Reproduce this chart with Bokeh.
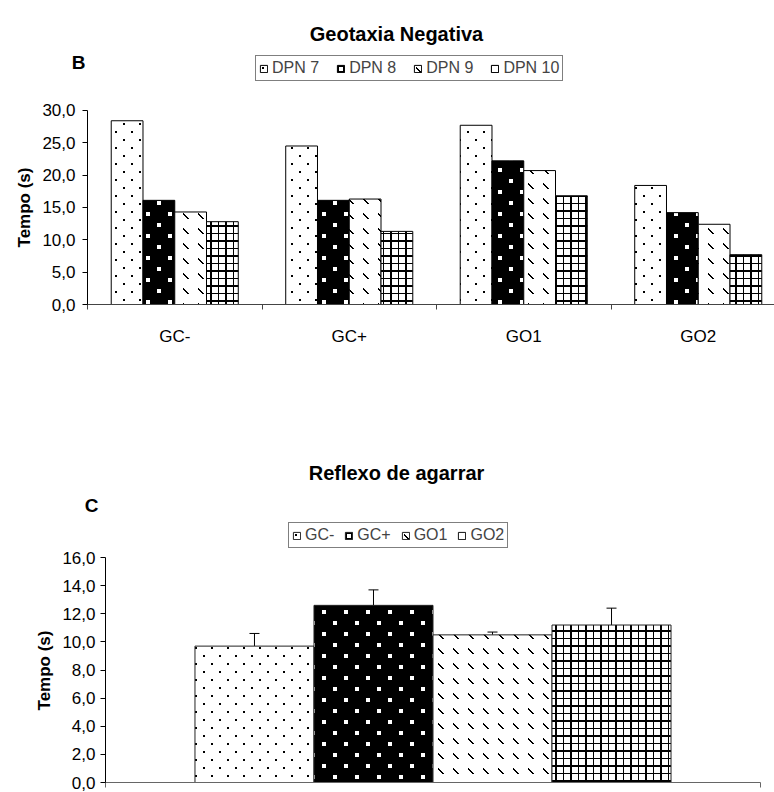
import math
import zlib
import struct
import base64
from bokeh.plotting import figure
from bokeh.layouts import column
from bokeh.models import (Range1d, FixedTicker, Legend, LegendItem, Label,
                          ColumnDataSource, Whisker, TeeHead, ImageURLTexture)
from bokeh.core.properties import value
from bokeh.embed import file_html
from bokeh.resources import INLINE

# ---------------- data ----------------
groups_b = ["GC-", "GC+", "GO1", "GO2"]
series_b = ["DPN 7", "DPN 8", "DPN 9", "DPN 10"]
dpn7 = [28.4, 24.5, 27.7, 18.4]
dpn8 = [16.1, 16.1, 22.2, 14.2]
dpn9 = [14.3, 16.3, 20.7, 12.4]
dpn10 = [12.8, 11.3, 16.8, 7.7]
yticks_b = [0, 5, 10, 15, 20, 25, 30]

groups_c = ["GC-", "GC+", "GO1", "GO2"]
means_c = [9.7, 12.6, 10.5, 11.2]
errors_c = [0.9, 1.1, 0.2, 1.2]
yticks_c = [0, 2, 4, 6, 8, 10, 12, 14, 16]

# ---------------- fill textures (small PNG tiles) ----------------
FONT = "Liberation Sans"


def png_url(size, on, rgb):
    """Tile of size x size pixels; pixels where on(x, y) is True get colour rgb."""
    rows = []
    for y in range(size):
        row = bytearray(b"\x00")
        for x in range(size):
            row += bytes(rgb + (255,)) if on(x, y) else b"\x00\x00\x00\x00"
        rows.append(bytes(row))
    raw = b"".join(rows)

    def chunk(t, d):
        return struct.pack(">I", len(d)) + t + d + struct.pack(">I", zlib.crc32(t + d) & 0xFFFFFFFF)

    png = (b"\x89PNG\r\n\x1a\n"
           + chunk(b"IHDR", struct.pack(">IIBBBBB", size, size, 8, 6, 0, 0, 0))
           + chunk(b"IDAT", zlib.compress(raw))
           + chunk(b"IEND", b""))
    return "data:image/png;base64," + base64.b64encode(png).decode()


def dots(x, y):
    return (x in (3, 4) and y in (3, 4)) or (x in (11, 12) and y in (11, 12))


def squares(x, y):
    return (3 <= x <= 6 and 3 <= y <= 6) or (14 <= x <= 17 and 14 <= y <= 17)


def dashes(x, y):
    return 3 <= x <= 8 and (y == x or y == x + 1 and x < 8)


def grid(x, y):
    return x in (0, 1) or y in (0, 1) or x == 8 or y == 8


tex = {
    "dots": ImageURLTexture(url=png_url(16, dots, (0, 0, 0)), repetition="repeat"),
    "squares": ImageURLTexture(url=png_url(22, squares, (255, 255, 255)), repetition="repeat"),
    "dashes": ImageURLTexture(url=png_url(15, dashes, (0, 0, 0)), repetition="repeat"),
    "grid": ImageURLTexture(url=png_url(15, grid, (0, 0, 0)), repetition="repeat"),
}

styles = [
    dict(fill_color="white", hatch_pattern=value("dots")),
    dict(fill_color="black", hatch_pattern=value("squares")),
    dict(fill_color="white", hatch_pattern=value("dashes")),
    dict(fill_color="white", hatch_pattern=value("grid")),
]


def fmt(v):
    return f"{v:.1f}".replace(".", ",")


def style_common(p):
    p.xgrid.visible = False
    p.ygrid.visible = False
    p.outline_line_color = None
    p.background_fill_color = "white"
    p.border_fill_color = "white"


def text_label(p, x, y, text, size, angle=0.0):
    p.add_layout(Label(x=x, y=y, x_units="screen", y_units="screen", text=text,
                       text_font=FONT, text_font_size=size, text_font_style="bold",
                       text_color="black", text_align="center", text_baseline="middle",
                       angle=angle))


def style_yaxis(ax, ticks, standoff):
    ax.ticker = FixedTicker(ticks=ticks, minor_ticks=[])
    ax.major_label_overrides = {v: fmt(v) for v in ticks}
    ax.bounds = (ticks[0], ticks[-1])
    ax.fixed_location = 0
    ax.major_tick_out = 5
    ax.major_tick_in = 0
    ax.major_label_standoff = standoff
    ax.major_label_text_font = FONT
    ax.major_label_text_font_size = "17px"
    ax.major_label_text_color = "black"
    ax.axis_line_color = "black"
    ax.major_tick_line_color = "black"


# ---------------- chart B ----------------
H_B = 420
PX_B = 6.47          # pixels per unit
CAT_B = 174.5        # pixels per category
LEFT_B = 87          # pixel of the y axis
BOTTOM_B = 304       # pixel of y = 0
pB = figure(width=774, height=H_B, output_backend="svg", toolbar_location=None,
            x_range=Range1d(-LEFT_B / CAT_B, (774 - LEFT_B) / CAT_B),
            y_range=Range1d(-(H_B - BOTTOM_B) / PX_B, BOTTOM_B / PX_B),
            min_border_left=0, min_border_right=0, min_border_top=0, min_border_bottom=0)
style_common(pB)

wb = 0.182
series_vals = [dpn7, dpn8, dpn9, dpn10]
rend_b = []
for k, vals in enumerate(series_vals):
    xs = [i + 0.5 + (k - 1.5) * wb for i in range(len(groups_b))]
    src = ColumnDataSource(dict(x=xs, top=vals))
    r = pB.vbar(x="x", top="top", bottom=0, width=wb, source=src,
                line_color="black", line_width=1, hatch_extra=tex, **styles[k])
    rend_b.append(r)

pB.xaxis.ticker = FixedTicker(ticks=[i + 0.5 for i in range(len(groups_b))],
                              minor_ticks=list(range(len(groups_b) + 1)))
pB.xaxis.major_label_overrides = {i + 0.5: g for i, g in enumerate(groups_b)}
pB.xaxis.bounds = (0, len(groups_b))
pB.xaxis.fixed_location = 0
pB.xaxis.major_tick_out = 0
pB.xaxis.major_tick_in = 0
pB.xaxis.minor_tick_out = 5
pB.xaxis.minor_tick_in = 0
pB.xaxis.major_label_standoff = 17
pB.xaxis.axis_line_color = "#444444"
pB.xaxis.minor_tick_line_color = "#444444"
pB.xaxis.major_label_text_font = FONT
pB.xaxis.major_label_text_font_size = "17px"
pB.xaxis.major_label_text_color = "black"

style_yaxis(pB.yaxis, yticks_b, 7)

legB = Legend(items=[LegendItem(label=s, renderers=[r]) for s, r in zip(series_b, rend_b)],
              orientation="horizontal", location=(255, H_B - 81), margin=0,
              padding=3, spacing=17, glyph_width=9, glyph_height=9, label_standoff=4,
              label_height=16, label_text_font=FONT, label_text_font_size="16px",
              label_text_baseline="middle",
              border_line_color="black", border_line_width=1, background_fill_alpha=1)
pB.add_layout(legB)

text_label(pB, 396, H_B - 33, "Geotaxia Negativa", "20px")
text_label(pB, 78, H_B - 62, "B", "19px")
text_label(pB, 24, H_B - 207, "Tempo (s)", "17px", angle=math.pi / 2)

# ---------------- chart C ----------------
TOP_C = 420          # window pixel where chart C starts
H_C = 792 - TOP_C
PX_C = 14.06
LEFT_C, RIGHT_C = 105, 760
BOTTOM_C = 782       # window pixel of y = 0
pC = figure(width=774, height=H_C, output_backend="svg", toolbar_location=None,
            x_range=Range1d(-LEFT_C / (RIGHT_C - LEFT_C), (774 - LEFT_C) / (RIGHT_C - LEFT_C)),
            y_range=Range1d(-(792 - BOTTOM_C) / PX_C, (BOTTOM_C - TOP_C) / PX_C),
            min_border_left=0, min_border_right=0, min_border_top=0, min_border_bottom=0)
style_common(pC)

wc = 0.1817
rend_c = []
for k, (g, m, e) in enumerate(zip(groups_c, means_c, errors_c)):
    x = 0.5 + (k - 1.5) * wc
    src = ColumnDataSource(dict(x=[x], top=[m], upper=[m + e]))
    r = pC.vbar(x="x", top="top", bottom=0, width=wc, source=src,
                line_color="#222222", line_width=1, hatch_extra=tex, **styles[k])
    rend_c.append(r)
    pC.add_layout(Whisker(source=src, base="x", upper="upper", lower="top",
                          line_color="black", line_width=1,
                          upper_head=TeeHead(size=10, line_color="black", line_width=1),
                          lower_head=None))

pC.xaxis.ticker = FixedTicker(ticks=[], minor_ticks=[0, 1])
pC.xaxis.bounds = (0, 1)
pC.xaxis.fixed_location = 0
pC.xaxis.minor_tick_out = 5
pC.xaxis.minor_tick_in = 0
pC.xaxis.major_label_standoff = 0
pC.xaxis.axis_line_color = "#666666"
pC.xaxis.minor_tick_line_color = "#666666"

style_yaxis(pC.yaxis, yticks_c, 5)

legC = Legend(items=[LegendItem(label=g, renderers=[r]) for g, r in zip(groups_c, rend_c)],
              orientation="horizontal", location=(288, 792 - 548), margin=0,
              padding=3, spacing=10, glyph_width=9, glyph_height=9, label_standoff=4,
              label_height=16, label_text_font=FONT, label_text_font_size="16px",
              label_text_baseline="middle",
              border_line_color="black", border_line_width=1, background_fill_alpha=1)
pC.add_layout(legC)

text_label(pC, 396, 792 - 472, "Reflexo de agarrar", "20px")
text_label(pC, 91, 792 - 505, "C", "19px")
text_label(pC, 44, 792 - 670, "Tempo (s)", "17px", angle=math.pi / 2)

layout = column(pB, pC, spacing=0)
open("out.html", "w").write(file_html(layout, INLINE))
